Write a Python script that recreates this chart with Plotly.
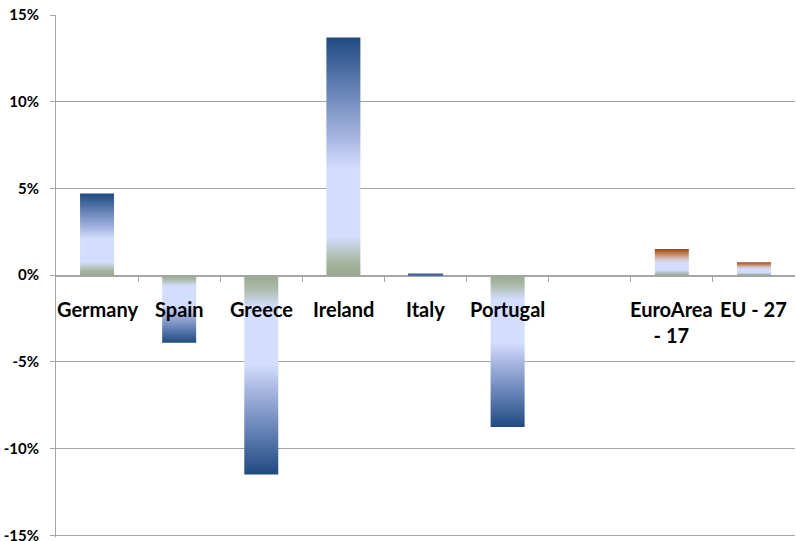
import plotly.graph_objects as go

# Change by country (percent)
countries = ["Germany", "Spain", "Greece", "Ireland", "Italy", "Portugal", "",
             "EuroArea<br>- 17", "EU - 27"]
values = [4.7, -3.9, -11.5, 13.7, 0.06, -8.75, None, 1.5, 0.75]
aggregate = [False, False, False, False, False, False, False, True, True]

y_ticks = [-15, -10, -5, 0, 5, 10, 15]
y_tick_text = ["-15%", "-10%", "-5%", "0%", "5%", "10%", "15%"]

FONT = "Lato, 'Liberation Sans', Arial, sans-serif"
GRID = "#a6a6a6"
BAR_HALF = 0.207

# gradient stops run from the zero line (0) to the bar tip (1)
blue_scale = [
    [0.0, "#97a98e"], [0.06, "#a9b8a5"], [0.16, "#d3ddfd"], [0.45, "#d3ddfd"],
    [0.58, "#a6b5e0"], [0.78, "#6682b6"], [1.0, "#1f4a80"],
]
brown_scale = [
    [0.0, "#97a98e"], [0.08, "#b2bfc4"], [0.2, "#d3ddfd"], [0.45, "#d3ddfd"],
    [0.6, "#d8c8d0"], [0.8, "#c08a64"], [1.0, "#9c4812"],
]


def flipped(scale):
    return [[1 - p, c] for p, c in reversed(scale)]


fig = go.Figure()

for i, (v, agg) in enumerate(zip(values, aggregate)):
    if v is None:
        continue
    scale = brown_scale if agg else blue_scale
    if v < 0:
        scale = flipped(scale)
    xs = [i - BAR_HALF, i + BAR_HALF, i + BAR_HALF, i - BAR_HALF, i - BAR_HALF]
    ys = [0, 0, v, v, 0]
    if abs(v) < 0.3:
        # a bar this short is only a pixel high: show it as a solid sliver
        fig.add_trace(go.Scatter(
            x=xs, y=ys, mode="lines", fill="toself", fillcolor="#3d6296",
            line=dict(width=1.2, color="#3d6296"),
            hoverinfo="skip", showlegend=False,
        ))
        continue
    fig.add_trace(go.Scatter(
        x=xs, y=ys, mode="lines", fill="toself",
        line=dict(width=0, color="rgba(0,0,0,0)"),
        fillgradient=dict(type="vertical", colorscale=scale),
        hoverinfo="skip", showlegend=False,
    ))

# category labels sit just under the zero line
for i, name in enumerate(countries):
    if not name:
        continue
    fig.add_annotation(
        x=i, y=0, xref="x", yref="y", text=name, showarrow=False,
        yanchor="top", xanchor="center", yshift=-20,
        font=dict(family=FONT, size=20, color="#000000", weight="bold"),
    )

n = len(countries)
fig.update_layout(
    width=796, height=541,
    margin=dict(l=56, r=1, t=15, b=4, autoexpand=False),
    paper_bgcolor="white", plot_bgcolor="white",
    xaxis=dict(
        range=[-0.5, n - 0.5], anchor="free", position=0.5,
        showgrid=False, zeroline=False, automargin=False,
        showline=True, linecolor=GRID, linewidth=1,
        tickmode="array", tickvals=[k + 0.5 for k in range(n - 1)],
        ticks="outside", ticklen=5, tickcolor=GRID, tickwidth=1,
        showticklabels=False,
    ),
    yaxis=dict(
        range=[-15.1, 15], tickmode="array", tickvals=y_ticks, ticktext=y_tick_text,
        showgrid=True, gridcolor=GRID, gridwidth=1, automargin=False,
        zeroline=False, showline=True, linecolor=GRID, linewidth=1,
        ticks="outside", ticklen=5, tickcolor=GRID,
        ticklabelstandoff=8, ticklabeloverflow="allow",
        tickfont=dict(family=FONT, size=15, color="#000000", weight="bold"),
    ),
    font=dict(family=FONT, weight="bold"),
)

fig.write_html("out.html")
